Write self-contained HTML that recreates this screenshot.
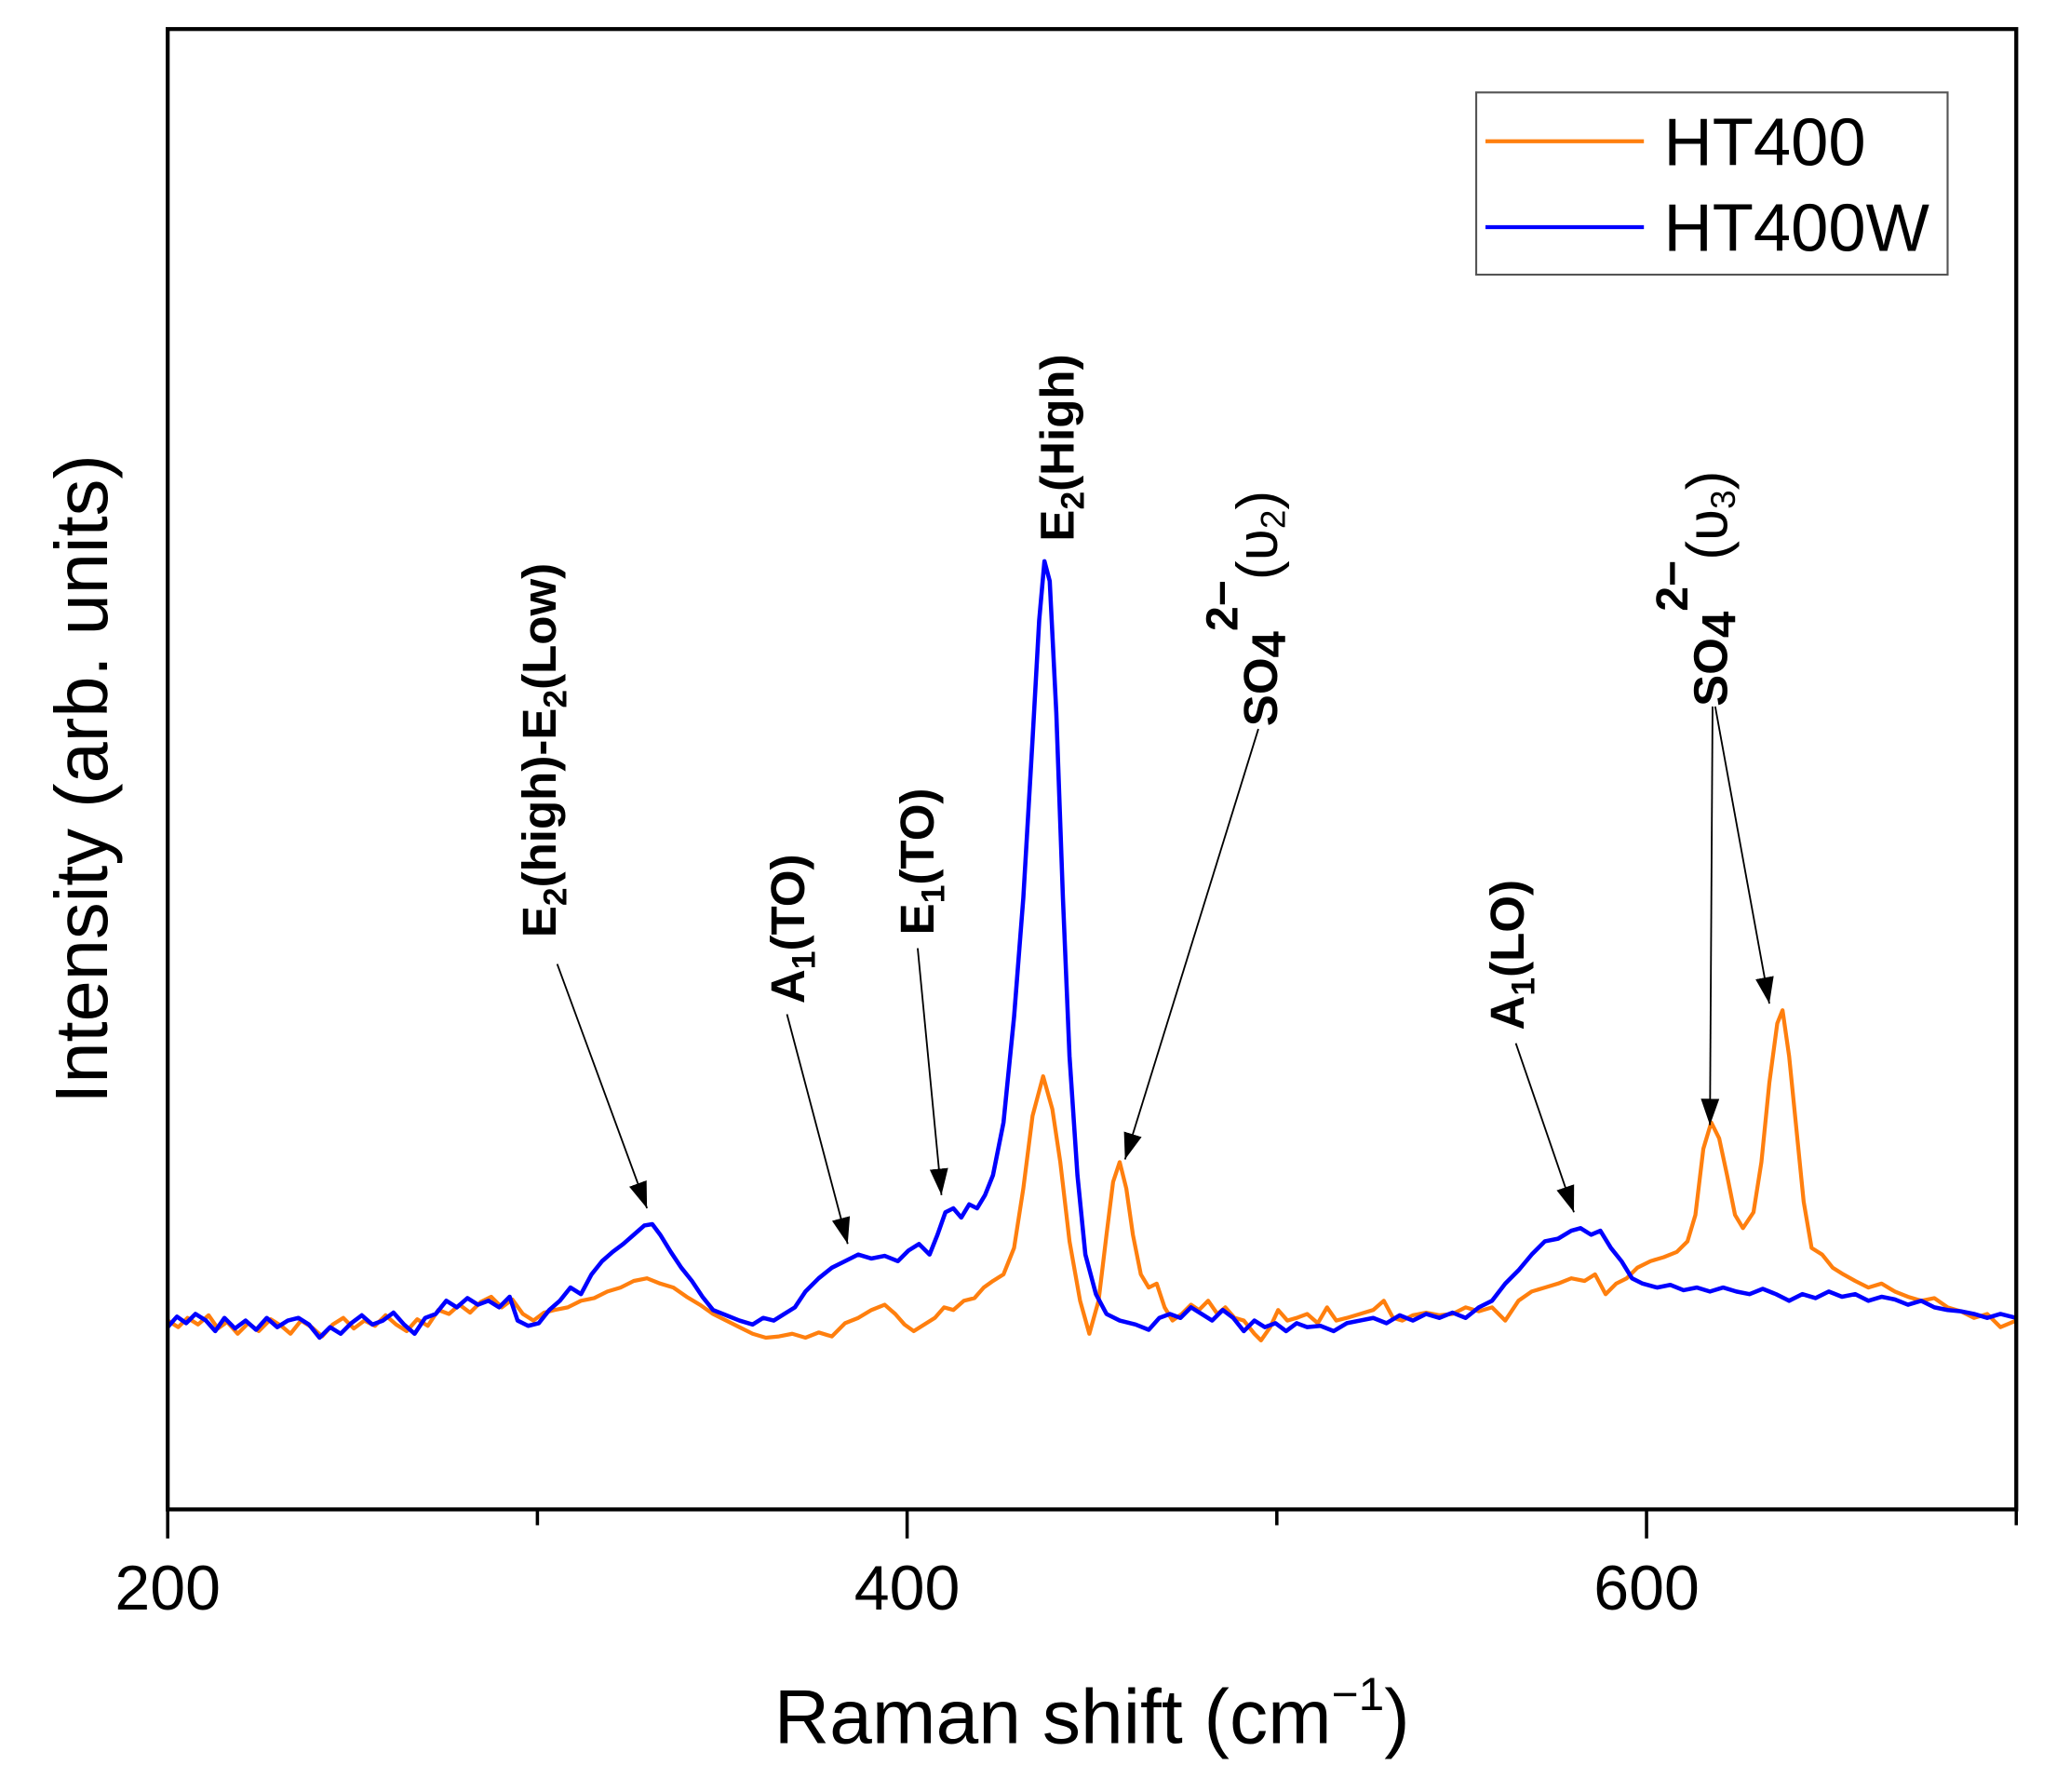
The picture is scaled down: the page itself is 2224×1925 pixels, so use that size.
<!DOCTYPE html>
<html><head><meta charset="utf-8"><style>
html,body{margin:0;padding:0;background:#fff;}
svg{display:block;}
text{font-family:"Liberation Sans",Arial,sans-serif;}
</style></head><body>
<svg width="2224" height="1925" viewBox="0 0 1567.7 1357" preserveAspectRatio="none" xmlns="http://www.w3.org/2000/svg">
<defs>
<marker id="ah2" viewBox="0 0 10 10" refX="10" refY="5" markerWidth="20" markerHeight="20" markerUnits="userSpaceOnUse" orient="auto">
<path d="M0,1.5 L10,5 L0,8.5 z" fill="#000"/>
</marker>
</defs>
<rect width="1568" height="1357" fill="#fff"/>

<polyline fill="none" stroke="#ff7f0e" stroke-width="3" stroke-linejoin="round" points="
127,1000 135,1005 142,998 150,1003 158,996 165,1006 172,1001 180,1010 188,1002 196,1008 205,999 213,1004 220,1010 228,1000 236,1005 244,1012 252,1003 260,998 268,1006 276,1000 284,1004 292,996 300,1003 308,1008 316,999 324,1004 332,992 340,995 348,988 356,994 364,986 372,982 380,990 388,984 396,995 404,1000 412,994 420,992 430,990 440,985 450,983 460,978 470,975 480,970 490,968 500,972 510,975 520,982 530,988 540,995 550,1000 560,1005 570,1010 580,1013 590,1012 600,1010 610,1013 620,1009 630,1012 640,1002 650,998 660,992 670,988 678,995 685,1003 692,1008 700,1003 708,998 715,990 722,992 730,985 738,983 745,975 752,970 760,965 768,945 775,900 782,845 790,815 797,840 803,880 810,940 818,985 825,1010 832,985 838,935 843,895 848,880 853,900 858,935 864,965 870,975 876,972 882,990 888,1000 895,995 902,988 908,992 915,985 922,995 928,990 935,998 942,1000 950,1010 955,1015 962,1005 968,992 975,1000 982,998 990,995 998,1002 1005,990 1012,1000 1020,998 1030,995 1040,992 1048,985 1055,998 1062,1000 1070,996 1080,994 1090,996 1100,995 1110,990 1120,993 1130,990 1140,1000 1150,985 1160,978 1170,975 1180,972 1190,968 1200,970 1208,965 1216,980 1224,972 1232,968 1240,960 1250,955 1260,952 1270,948 1278,940 1284,920 1290,870 1296,850 1302,862 1308,890 1314,920 1320,930 1328,918 1334,880 1340,820 1346,775 1350,765 1355,800 1360,850 1366,910 1372,945 1380,950 1388,960 1396,965 1405,970 1415,975 1425,972 1435,978 1445,982 1455,985 1465,983 1475,990 1485,993 1495,998 1505,995 1515,1005 1527,1000"/>

<polyline fill="none" stroke="#0000ff" stroke-width="3.2" stroke-linejoin="round" points="
127,1005 134,997 141,1002 148,995 156,1000 163,1008 170,998 178,1006 186,1000 194,1007 202,998 210,1005 218,1000 226,998 234,1003 242,1013 250,1005 258,1010 266,1002 274,996 282,1003 290,1000 298,994 306,1003 314,1010 322,998 330,995 338,985 346,990 354,983 362,988 370,985 378,990 386,982 392,1000 400,1004 408,1002 416,992 424,985 432,975 440,980 448,965 456,955 464,948 472,942 480,935 488,928 494,927 500,935 508,948 516,960 524,970 532,982 540,992 550,996 560,1000 570,1003 578,998 586,1000 594,995 602,990 610,978 620,968 630,960 640,955 650,950 660,953 670,951 680,955 688,947 696,942 704,950 710,935 716,918 722,915 728,922 734,912 740,915 746,905 752,890 760,850 768,770 775,680 782,560 787,470 791,425 795,440 800,540 805,680 810,800 816,890 822,950 830,980 838,995 848,1000 860,1003 870,1007 878,998 886,995 894,998 902,990 910,995 918,1000 926,992 934,998 942,1008 950,1000 958,1005 966,1002 974,1008 982,1002 990,1005 1000,1004 1010,1008 1020,1002 1030,1000 1040,998 1050,1002 1060,996 1070,1000 1080,995 1090,998 1100,994 1110,998 1120,990 1130,985 1140,972 1150,962 1160,950 1170,940 1180,938 1190,932 1197,930 1205,935 1212,932 1220,945 1228,955 1236,968 1244,972 1255,975 1265,973 1275,977 1285,975 1295,978 1305,975 1315,978 1325,980 1335,976 1345,980 1355,985 1365,980 1375,983 1385,978 1395,982 1405,980 1415,985 1425,982 1435,984 1445,988 1455,985 1465,990 1475,992 1485,993 1495,995 1505,998 1515,995 1527,998"/>

<rect x="127" y="22" width="1400" height="1121" fill="none" stroke="#000" stroke-width="3"/>
<g stroke="#000" stroke-width="2.5">
<line x1="127" y1="1143" x2="127" y2="1165"/>
<line x1="407" y1="1143" x2="407" y2="1155"/>
<line x1="687" y1="1143" x2="687" y2="1165"/>
<line x1="967" y1="1143" x2="967" y2="1155"/>
<line x1="1247" y1="1143" x2="1247" y2="1165"/>
<line x1="1527" y1="1143" x2="1527" y2="1155"/>
</g>
<g font-size="48" text-anchor="middle" fill="#000">
<text x="127" y="1219">200</text>
<text x="687" y="1219">400</text>
<text x="1247" y="1219">600</text>
</g>
<text x="827" y="1320" font-size="58" text-anchor="middle">Raman shift (cm<tspan font-size="35" dy="-25">−1</tspan><tspan dy="25">)</tspan></text>
<text transform="translate(81,590) rotate(-90)" font-size="56" text-anchor="middle">Intensity (arb. units)</text>

<rect x="1118" y="70" width="357" height="138" fill="#fff" stroke="#555" stroke-width="1.5"/>
<line x1="1125" y1="107" x2="1245" y2="107" stroke="#ff7f0e" stroke-width="3"/>
<line x1="1125" y1="172" x2="1245" y2="172" stroke="#0000ff" stroke-width="3"/>
<text x="1260" y="125" font-size="51">HT400</text>
<text x="1260" y="190" font-size="51">HT400W</text>

<g stroke="#000" stroke-width="1.3" fill="none" marker-end="url(#ah2)">
<line x1="422" y1="730" x2="490" y2="915"/>
<line x1="596" y1="768" x2="642" y2="942"/>
<line x1="695" y1="718" x2="713" y2="905"/>
<line x1="953" y1="552" x2="852" y2="878"/>
<line x1="1148" y1="790" x2="1192" y2="918"/>
<line x1="1297" y1="535" x2="1295" y2="852"/>
<line x1="1299" y1="535" x2="1340" y2="760"/>
</g>

<g font-size="36" font-weight="bold" fill="#000">
<text transform="translate(421,710) rotate(-90)">E<tspan font-size="25" dy="8">2</tspan><tspan dy="-8">(high)-E</tspan><tspan font-size="25" dy="8">2</tspan><tspan dy="-8">(Low)</tspan></text>
<text transform="translate(609,760) rotate(-90)">A<tspan font-size="25" dy="8">1</tspan><tspan dy="-8">(TO)</tspan></text>
<text transform="translate(707,708) rotate(-90)">E<tspan font-size="25" dy="8">1</tspan><tspan dy="-8">(TO)</tspan></text>
<text transform="translate(813,410) rotate(-90)">E<tspan font-size="25" dy="8">2</tspan><tspan dy="-8">(High)</tspan></text>
<text transform="translate(1154,780) rotate(-90)">A<tspan font-size="25" dy="8">1</tspan><tspan dy="-8">(LO)</tspan></text>
<text transform="translate(967,550) rotate(-90)">SO<tspan dy="6">4</tspan><tspan font-size="34" dy="-36">2−</tspan><tspan font-weight="normal" font-size="44" dy="30">(υ</tspan><tspan font-weight="normal" font-size="26" dy="6">2</tspan><tspan font-weight="normal" font-size="44" dy="-6">)</tspan></text>
<text transform="translate(1308,535) rotate(-90)">SO<tspan dy="6">4</tspan><tspan font-size="34" dy="-36">2−</tspan><tspan font-weight="normal" font-size="44" dy="30">(υ</tspan><tspan font-weight="normal" font-size="26" dy="6">3</tspan><tspan font-weight="normal" font-size="44" dy="-6">)</tspan></text>
</g>
</svg>
</body></html>
